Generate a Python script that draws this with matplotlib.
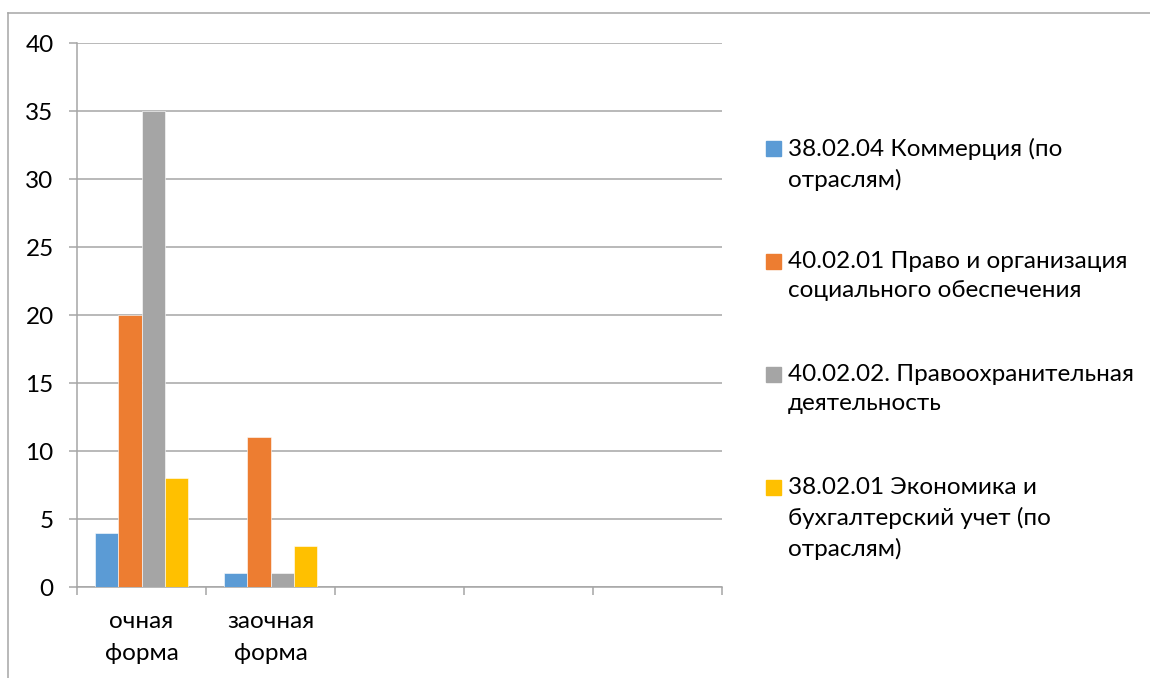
import numpy as np
import matplotlib
matplotlib.use('Agg')
import matplotlib.pyplot as plt
from matplotlib.lines import Line2D
from matplotlib.patches import Rectangle

# data
categories = ['очная\nформа', 'заочная\nформа', '', '', '']
series_names = ['38.02.04 Коммерция (по\nотраслям)',
                '40.02.01 Право и организация\nсоциального обеспечения',
                '40.02.02. Правоохранительная\nдеятельность',
                '38.02.01 Экономика и\nбухгалтерский учет (по\nотраслям)']
kommerciya = [4, 1, 0, 0, 0]
pravo_org = [20, 11, 0, 0, 0]
pravoohr = [35, 1, 0, 0, 0]
ekonomika = [8, 3, 0, 0, 0]
colors = ['#5B9BD5', '#ED7D31', '#A5A5A5', '#FFC000']

plt.rcParams['font.family'] = ['Lato', 'DejaVu Sans']
W, H = 1150, 678
fs = 17.5
fig = plt.figure(figsize=(W / 100, H / 100), dpi=100)
ax = fig.add_axes([77 / W, 1 - 587 / H, (722 - 77) / W, (587 - 43) / H])

grid_col = '#A6A6A6'
x = np.arange(len(categories))
bw = 1 / 5.5
values = [kommerciya, pravo_org, pravoohr, ekonomika]
for i, vals in enumerate(values):
    v = np.array(vals, dtype=float)
    ax.bar(x + (i - 1.5) * bw, np.where(v > 0, v, np.nan), bw, color=colors[i],
           edgecolor='white', linewidth=0.4, zorder=3)

ax.set_xlim(-0.5, len(categories) - 0.5)
ax.set_ylim(0, 40)
ax.set_yticks(np.arange(0, 41, 5))
ax.yaxis.grid(True, color=grid_col, linewidth=1.1, zorder=0)
ax.tick_params(axis='y', length=5.8, width=1.1, color=grid_col, pad=11,
               labelsize=fs, labelcolor='black')
ax.set_xticks(x)
ax.set_xticklabels(categories, linespacing=1.65)
ax.set_xticks(np.arange(-0.5, len(categories), 1), minor=True)
ax.tick_params(axis='x', which='major', length=0, pad=17, labelsize=fs)
ax.tick_params(axis='x', which='minor', length=6, width=1.1, color=grid_col)
for s in ['top', 'right']:
    ax.spines[s].set_visible(False)
for s in ['left', 'bottom']:
    ax.spines[s].set_color(grid_col)
    ax.spines[s].set_linewidth(1.1)

# legend drawn by hand, entries stacked at a fixed step
for i, name in enumerate(series_names):
    yc = 149 + i * 113
    fig.patches.append(Rectangle((766 / W, 1 - (yc + 7) / H), 15 / W, 15 / H,
                                 transform=fig.transFigure, color=colors[i]))
    fig.text(788 / W, 1 - (yc - 11) / H, name, fontsize=fs, va='top',
             ha='left', linespacing=1.5)

# chart border (cut off at right and bottom)
fig.add_artist(Line2D([8 / W, 8 / W], [0, 1 - 13 / H], color=grid_col, lw=1.1))
fig.add_artist(Line2D([8 / W, 1], [1 - 13 / H, 1 - 13 / H], color=grid_col, lw=1.1))

fig.savefig('out.png', dpi=100)
